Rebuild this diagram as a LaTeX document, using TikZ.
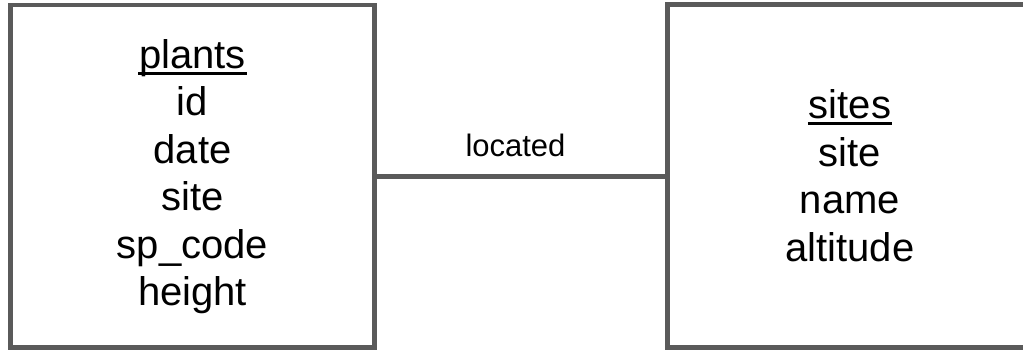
\documentclass[tikz,border=0pt]{standalone}
\usepackage{fontspec}
\setmainfont{Liberation Sans}
\definecolor{linegray}{RGB}{90,90,90}
\newcommand\keyul[1]{\setbox0\hbox{#1}\rlap{\kern-1pt\rule[-6.5pt]{\dimexpr\wd0+2pt\relax}{3pt}}\box0}
\begin{document}
\begin{tikzpicture}[x=1pt,y=-1pt,
  entity/.style={draw=linegray, line width=4.5pt, rectangle, inner sep=0pt, outer sep=0pt},
  attr/.style={anchor=base, inner sep=0pt, font=\fontsize{40}{47.5}\selectfont},
  rel/.style={anchor=base, inner sep=0pt, font=\fontsize{31}{36}\selectfont},
  link/.style={draw=linegray, line width=4.5pt}]
\useasboundingbox (0,0) rectangle (1023,349);
\clip (0,0) rectangle (1023,349);
\node[entity, minimum width=364pt, minimum height=342.5pt] (plants) at (192.5,176.25) {};
\node[entity, minimum width=367.5pt, minimum height=343pt] (sites) at (851.25,176) {};
\draw[link] (plants.east) -- (plants.east -| sites.west);
\node[rel] (located) at (515.5,156) {located};
\node[attr] (p0) at (192.5,68) {\keyul{plants}};
\node[attr] (p1) at (192.5,115.5) {id};
\node[attr] (p2) at (192.5,163) {date};
\node[attr] (p3) at (192.5,210.5) {site};
\node[attr] (p4) at (192.5,258) {sp\_code};
\node[attr] (p5) at (192.5,305.5) {height};
\node[attr] (s0) at (850,118.5) {\keyul{sites}};
\node[attr] (s1) at (850,166) {site};
\node[attr] (s2) at (850,213.5) {name};
\node[attr] (s3) at (850,261) {altitude};
\end{tikzpicture}
\end{document}
